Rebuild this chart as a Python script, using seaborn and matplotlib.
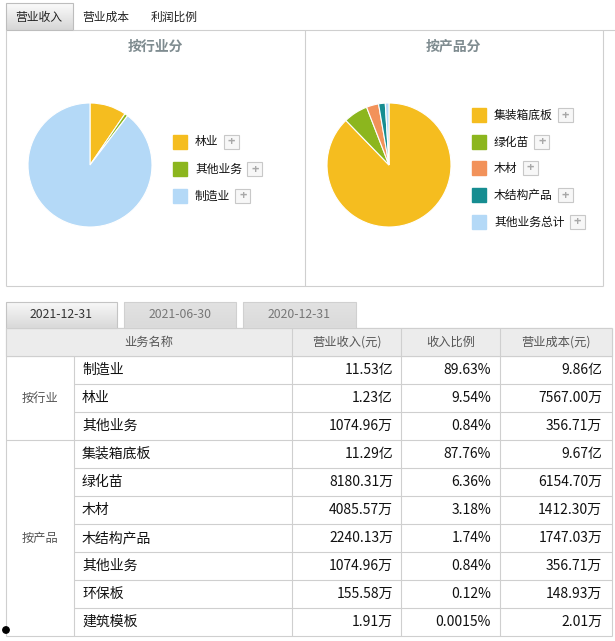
import numpy as np
import matplotlib
matplotlib.use('Agg')
import matplotlib.pyplot as plt
from matplotlib.patches import Rectangle, Circle
import seaborn as sns

# ---------------- data ----------------
top_tabs = ['营业收入', '营业成本', '利润比例']

industry_title = '按行业分'
industry_names = ['林业', '其他业务', '制造业']
industry_share = [9.54, 0.84, 89.63]
industry_colors = ['#F5BD1F', '#8CB61E', '#B4D9F7']

product_title = '按产品分'
product_names = ['集装箱底板', '绿化苗', '木材', '木结构产品', '其他业务总计']
product_share = [87.76, 6.36, 3.18, 1.74, 0.96]
product_colors = ['#F5BD1F', '#8CB61E', '#F2925A', '#168D91', '#B4D9F7']

date_tabs = ['2021-12-31', '2021-06-30', '2020-12-31']
table_headers = ['业务名称', '营业收入(元)', '收入比例', '营业成本(元)']
groups = ['按行业', '按产品']
group_sizes = [3, 7]
row_names = ['制造业', '林业', '其他业务', '集装箱底板', '绿化苗', '木材',
             '木结构产品', '其他业务', '环保板', '建筑模板']
revenue = ['11.53亿', '1.23亿', '1074.96万', '11.29亿', '8180.31万', '4085.57万',
           '2240.13万', '1074.96万', '155.58万', '1.91万']
ratio = ['89.63%', '9.54%', '0.84%', '87.76%', '6.36%', '3.18%',
         '1.74%', '0.84%', '0.12%', '0.0015%']
cost = ['9.86亿', '7567.00万', '356.71万', '9.67亿', '6154.70万', '1412.30万',
        '1747.03万', '356.71万', '148.93万', '2.01万']

# ---------------- style ----------------
sns.set_theme(style='white')
plt.rcParams['font.family'] = ['Noto Sans CJK SC', 'DejaVu Sans']

W, H = 615, 641
fig = plt.figure(figsize=(W / 100, H / 100), dpi=100)
fig.patch.set_facecolor('white')
bg = fig.add_axes([0, 0, 1, 1])
bg.set_axis_off()

LINE = '#cfcfcf'


def hline(y, x0, x1, c=LINE, lw=0.8):
    bg.plot([x0, x1], [y, y], color=c, lw=lw, solid_capstyle='butt')


def vline(x, y0, y1, c=LINE, lw=0.8):
    bg.plot([x, x], [y0, y1], color=c, lw=lw, solid_capstyle='butt')


def gradient(x0, x1, y0, y1, c_top, c_bot, edge=None):
    t = np.linspace(0, 1, 40)[:, None, None]
    a = np.array(matplotlib.colors.to_rgb(c_top))[None, None, :]
    b = np.array(matplotlib.colors.to_rgb(c_bot))[None, None, :]
    img = a * (1 - t) + b * t
    bg.imshow(img, extent=[x0, x1, y1, y0], origin='upper', aspect='auto',
              interpolation='bilinear', zorder=1)
    if edge:
        bg.add_patch(Rectangle((x0, y0), x1 - x0, y1 - y0, fill=False,
                               edgecolor=edge, lw=0.8, zorder=2))


# ---------------- top tabs ----------------
gradient(6, 73, 3, 30, '#fbfbfb', '#d6d6d6', edge='#bdbdbd')
tab_centers = [39, 106, 174]
for name, cx in zip(top_tabs, tab_centers):
    bg.text(cx, 17, name, ha='center', va='center', fontsize=8.5,
            color='#222222', zorder=3)

# panel borders
hline(30, 73, 615)
hline(286, 6, 603)
vline(6, 30, 286)
vline(305, 30, 286)
vline(603, 30, 286)

# titles
bg.text(155, 47, industry_title, ha='center', va='center', fontsize=10,
        fontweight='bold', color='#7f8c90')
bg.text(453, 47, product_title, ha='center', va='center', fontsize=10,
        fontweight='bold', color='#7f8c90')


def draw_pie(cx, cy, r, values, colors):
    m = 1.04
    ax = fig.add_axes([(cx - r * m) / W, 1 - (cy + r * m) / H,
                       2 * r * m / W, 2 * r * m / H])
    ax.pie(values, colors=colors, startangle=90, counterclock=False,
           wedgeprops=dict(edgecolor='white', linewidth=0.8))
    ax.set_xlim(-m, m)
    ax.set_ylim(-m, m)
    ax.set_aspect('equal')
    ax.set_axis_off()


def draw_legend(x, ys, names, colors):
    char_px = 11.8
    for y, name, c in zip(ys, names, colors):
        bg.add_patch(Rectangle((x, y - 7), 14, 14, color=c, zorder=3))
        bg.text(x + 22, y, name, ha='left', va='center', fontsize=8.5,
                color='#111111', zorder=3)
        px = x + 22 + len(name) * char_px + 5
        bg.add_patch(Rectangle((px, y - 7), 15, 14, facecolor='#f7f7f7',
                               edgecolor='#c8c8c8', lw=0.8, zorder=3))
        bg.text(px + 7.5, y, '+', ha='center', va='center', fontsize=9,
                fontweight='bold', color='#a8a8a8', zorder=4)


draw_pie(90, 165, 62, industry_share, industry_colors)
draw_legend(173, [142, 169, 196], industry_names, industry_colors)

draw_pie(389, 165, 62, product_share, product_colors)
draw_legend(472, [115, 142, 168, 195, 222], product_names, product_colors)

# ---------------- date tabs ----------------
tab_x = [(6, 117), (124, 236), (243, 356)]
for i, (lbl, (x0, x1)) in enumerate(zip(date_tabs, tab_x)):
    if i == 0:
        gradient(x0, x1, 302, 328, '#f8f8f8', '#d9d9d9', edge='#c4c4c4')
        col = '#333333'
    else:
        gradient(x0, x1, 302, 328, '#e2e2e2', '#dadada', edge='#d0d0d0')
        col = '#777777'
    bg.text((x0 + x1) / 2, 315, lbl, ha='center', va='center', fontsize=8.8,
            color=col, zorder=3)

# ---------------- table ----------------
cols = [6, 74, 292, 401, 500, 612]
y_head0, y_head1 = 328, 356
row_h = 28

bg.add_patch(Rectangle((cols[0], y_head0), cols[-1] - cols[0], row_h,
                       color='#ececec', zorder=1))
head_centers = [(cols[0] + cols[2]) / 2, (cols[2] + cols[3]) / 2,
                (cols[3] + cols[4]) / 2, (cols[4] + cols[5]) / 2]
for txt, cx in zip(table_headers, head_centers):
    bg.text(cx, (y_head0 + y_head1) / 2, txt, ha='center', va='center',
            fontsize=8.8, color='#555555', zorder=3)

n_rows = len(row_names)
y_end = y_head1 + n_rows * row_h
hline(y_head0, cols[0], cols[-1])
hline(y_head1, cols[0], cols[-1])
vline(cols[0], y_head0, y_end)
vline(cols[1], y_head1, y_end)
for x in cols[2:]:
    vline(x, y_head0, y_end)

# group labels and separators
start = 0
for g, n in zip(groups, group_sizes):
    gy0 = y_head1 + start * row_h
    gy1 = y_head1 + (start + n) * row_h
    bg.text((cols[0] + cols[1]) / 2, (gy0 + gy1) / 2, g, ha='center',
            va='center', fontsize=8.8, color='#555555', zorder=3)
    for k in range(1, n):
        hline(gy0 + k * row_h, cols[1], cols[-1])
    hline(gy1, cols[0], cols[-1])
    start += n

for i in range(n_rows):
    yc = y_head1 + i * row_h + row_h / 2
    bg.text(cols[1] + 8, yc, row_names[i], ha='left', va='center',
            fontsize=10, color='#111111', zorder=3)
    bg.text(cols[3] - 8, yc, revenue[i], ha='right', va='center',
            fontsize=10, color='#111111', zorder=3)
    bg.text(cols[4] - 9, yc, ratio[i], ha='right', va='center',
            fontsize=10, color='#111111', zorder=3)
    bg.text(cols[5] - 10, yc, cost[i], ha='right', va='center',
            fontsize=10, color='#111111', zorder=3)

# small stray dot at bottom-left of the reference
bg.add_patch(Circle((6, 630), 3.2, color='black', zorder=5))

bg.set_xlim(0, W)
bg.set_ylim(H, 0)
bg.set_aspect('auto')

fig.savefig('out.png', dpi=100, facecolor='white')
